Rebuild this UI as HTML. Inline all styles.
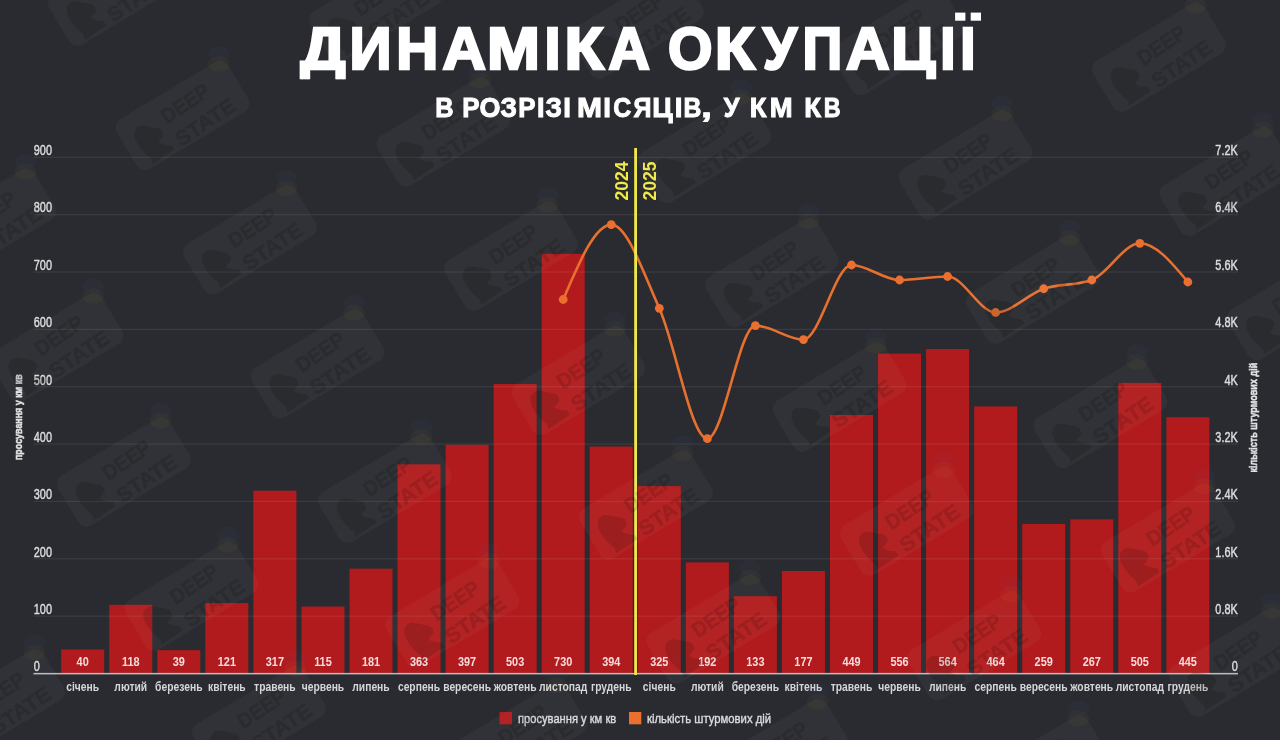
<!DOCTYPE html>
<html><head><meta charset="utf-8"><style>
html,body{margin:0;padding:0;background:#2a2b30;width:1280px;height:740px;overflow:hidden}
svg{display:block;filter:blur(0.4px)}
text{font-family:"Liberation Sans",sans-serif}
.ax{font-size:14px;fill:#dcdcde;stroke:#dcdcde;stroke-width:0.45px}
.vl{font-size:13px;font-weight:bold;fill:#f5dcdc}
.ml{font-size:13.4px;fill:#d6d6d8;font-weight:bold}
.yr{font-size:17.6px;font-weight:bold;fill:#efe94b}
.at{font-size:11.5px;font-weight:bold;fill:#e2e2e4;stroke:#e2e2e4;stroke-width:0.5px}
.lg{font-size:13px;fill:#dcdcde;stroke:#dcdcde;stroke-width:0.4px}
.wm{font-size:21px;font-weight:bold;fill:#000;stroke:#000;stroke-width:0.5px}
.t1{font-size:60px;font-weight:bold;fill:#fff;stroke:#fff;stroke-width:2.6px}
.t2{font-size:27px;font-weight:bold;fill:#fff;stroke:#fff;stroke-width:1px}
</style></head><body>
<svg width="1280" height="740" viewBox="0 0 1280 740">
<text x="33.8" y="671.30" class="ax" transform="translate(33.8 0) scale(0.78 1) translate(-33.8 0)">0</text>
<text x="33.8" y="613.95" class="ax" transform="translate(33.8 0) scale(0.78 1) translate(-33.8 0)">100</text>
<text x="33.8" y="556.60" class="ax" transform="translate(33.8 0) scale(0.78 1) translate(-33.8 0)">200</text>
<text x="33.8" y="499.25" class="ax" transform="translate(33.8 0) scale(0.78 1) translate(-33.8 0)">300</text>
<text x="33.8" y="441.90" class="ax" transform="translate(33.8 0) scale(0.78 1) translate(-33.8 0)">400</text>
<text x="33.8" y="384.55" class="ax" transform="translate(33.8 0) scale(0.78 1) translate(-33.8 0)">500</text>
<text x="33.8" y="327.20" class="ax" transform="translate(33.8 0) scale(0.78 1) translate(-33.8 0)">600</text>
<text x="33.8" y="269.85" class="ax" transform="translate(33.8 0) scale(0.78 1) translate(-33.8 0)">700</text>
<text x="33.8" y="212.50" class="ax" transform="translate(33.8 0) scale(0.78 1) translate(-33.8 0)">800</text>
<text x="33.8" y="155.15" class="ax" transform="translate(33.8 0) scale(0.78 1) translate(-33.8 0)">900</text>
<text x="1237.8" y="671.30" class="ax" text-anchor="end" transform="translate(1237.8 0) scale(0.78 1) translate(-1237.8 0)">0</text>
<text x="1237.8" y="613.95" class="ax" text-anchor="end" transform="translate(1237.8 0) scale(0.78 1) translate(-1237.8 0)">0.8K</text>
<text x="1237.8" y="556.60" class="ax" text-anchor="end" transform="translate(1237.8 0) scale(0.78 1) translate(-1237.8 0)">1.6K</text>
<text x="1237.8" y="499.25" class="ax" text-anchor="end" transform="translate(1237.8 0) scale(0.78 1) translate(-1237.8 0)">2.4K</text>
<text x="1237.8" y="441.90" class="ax" text-anchor="end" transform="translate(1237.8 0) scale(0.78 1) translate(-1237.8 0)">3.2K</text>
<text x="1237.8" y="384.55" class="ax" text-anchor="end" transform="translate(1237.8 0) scale(0.78 1) translate(-1237.8 0)">4K</text>
<text x="1237.8" y="327.20" class="ax" text-anchor="end" transform="translate(1237.8 0) scale(0.78 1) translate(-1237.8 0)">4.8K</text>
<text x="1237.8" y="269.85" class="ax" text-anchor="end" transform="translate(1237.8 0) scale(0.78 1) translate(-1237.8 0)">5.6K</text>
<text x="1237.8" y="212.50" class="ax" text-anchor="end" transform="translate(1237.8 0) scale(0.78 1) translate(-1237.8 0)">6.4K</text>
<text x="1237.8" y="155.15" class="ax" text-anchor="end" transform="translate(1237.8 0) scale(0.78 1) translate(-1237.8 0)">7.2K</text>
<rect x="61.20" y="649.56" width="43" height="23.94" fill="#b21b1d"/>
<text x="82.70" y="665.8" class="vl" text-anchor="middle" transform="translate(82.70 0) scale(0.84 1) translate(-82.70 0)">40</text>
<text x="82.70" y="691.3" class="ml" text-anchor="middle" transform="translate(82.70 0) scale(0.77 1) translate(-82.70 0)">січень</text>
<rect x="109.25" y="604.83" width="43" height="68.67" fill="#b21b1d"/>
<text x="130.75" y="665.8" class="vl" text-anchor="middle" transform="translate(130.75 0) scale(0.84 1) translate(-130.75 0)">118</text>
<text x="130.75" y="691.3" class="ml" text-anchor="middle" transform="translate(130.75 0) scale(0.77 1) translate(-130.75 0)">лютий</text>
<rect x="157.30" y="650.13" width="43" height="23.37" fill="#b21b1d"/>
<text x="178.80" y="665.8" class="vl" text-anchor="middle" transform="translate(178.80 0) scale(0.84 1) translate(-178.80 0)">39</text>
<text x="178.80" y="691.3" class="ml" text-anchor="middle" transform="translate(178.80 0) scale(0.77 1) translate(-178.80 0)">березень</text>
<rect x="205.35" y="603.11" width="43" height="70.39" fill="#b21b1d"/>
<text x="226.85" y="665.8" class="vl" text-anchor="middle" transform="translate(226.85 0) scale(0.84 1) translate(-226.85 0)">121</text>
<text x="226.85" y="691.3" class="ml" text-anchor="middle" transform="translate(226.85 0) scale(0.77 1) translate(-226.85 0)">квітень</text>
<rect x="253.40" y="490.70" width="43" height="182.80" fill="#b21b1d"/>
<text x="274.90" y="665.8" class="vl" text-anchor="middle" transform="translate(274.90 0) scale(0.84 1) translate(-274.90 0)">317</text>
<text x="274.90" y="691.3" class="ml" text-anchor="middle" transform="translate(274.90 0) scale(0.77 1) translate(-274.90 0)">травень</text>
<rect x="301.45" y="606.55" width="43" height="66.95" fill="#b21b1d"/>
<text x="322.95" y="665.8" class="vl" text-anchor="middle" transform="translate(322.95 0) scale(0.84 1) translate(-322.95 0)">115</text>
<text x="322.95" y="691.3" class="ml" text-anchor="middle" transform="translate(322.95 0) scale(0.77 1) translate(-322.95 0)">червень</text>
<rect x="349.50" y="568.70" width="43" height="104.80" fill="#b21b1d"/>
<text x="371.00" y="665.8" class="vl" text-anchor="middle" transform="translate(371.00 0) scale(0.84 1) translate(-371.00 0)">181</text>
<text x="371.00" y="691.3" class="ml" text-anchor="middle" transform="translate(371.00 0) scale(0.77 1) translate(-371.00 0)">липень</text>
<rect x="397.55" y="464.32" width="43" height="209.18" fill="#b21b1d"/>
<text x="419.05" y="665.8" class="vl" text-anchor="middle" transform="translate(419.05 0) scale(0.84 1) translate(-419.05 0)">363</text>
<text x="419.05" y="691.3" class="ml" text-anchor="middle" transform="translate(419.05 0) scale(0.77 1) translate(-419.05 0)">серпень</text>
<rect x="445.60" y="444.82" width="43" height="228.68" fill="#b21b1d"/>
<text x="467.10" y="665.8" class="vl" text-anchor="middle" transform="translate(467.10 0) scale(0.84 1) translate(-467.10 0)">397</text>
<text x="467.10" y="691.3" class="ml" text-anchor="middle" transform="translate(467.10 0) scale(0.77 1) translate(-467.10 0)">вересень</text>
<rect x="493.65" y="384.03" width="43" height="289.47" fill="#b21b1d"/>
<text x="515.15" y="665.8" class="vl" text-anchor="middle" transform="translate(515.15 0) scale(0.84 1) translate(-515.15 0)">503</text>
<text x="515.15" y="691.3" class="ml" text-anchor="middle" transform="translate(515.15 0) scale(0.77 1) translate(-515.15 0)">жовтень</text>
<rect x="541.70" y="253.85" width="43" height="419.65" fill="#b21b1d"/>
<text x="563.20" y="665.8" class="vl" text-anchor="middle" transform="translate(563.20 0) scale(0.84 1) translate(-563.20 0)">730</text>
<text x="563.20" y="691.3" class="ml" text-anchor="middle" transform="translate(563.20 0) scale(0.77 1) translate(-563.20 0)">листопад</text>
<rect x="589.75" y="446.54" width="43" height="226.96" fill="#b21b1d"/>
<text x="611.25" y="665.8" class="vl" text-anchor="middle" transform="translate(611.25 0) scale(0.84 1) translate(-611.25 0)">394</text>
<text x="611.25" y="691.3" class="ml" text-anchor="middle" transform="translate(611.25 0) scale(0.77 1) translate(-611.25 0)">грудень</text>
<rect x="637.80" y="486.11" width="43" height="187.39" fill="#b21b1d"/>
<text x="659.30" y="665.8" class="vl" text-anchor="middle" transform="translate(659.30 0) scale(0.84 1) translate(-659.30 0)">325</text>
<text x="659.30" y="691.3" class="ml" text-anchor="middle" transform="translate(659.30 0) scale(0.77 1) translate(-659.30 0)">січень</text>
<rect x="685.85" y="562.39" width="43" height="111.11" fill="#b21b1d"/>
<text x="707.35" y="665.8" class="vl" text-anchor="middle" transform="translate(707.35 0) scale(0.84 1) translate(-707.35 0)">192</text>
<text x="707.35" y="691.3" class="ml" text-anchor="middle" transform="translate(707.35 0) scale(0.77 1) translate(-707.35 0)">лютий</text>
<rect x="733.90" y="596.22" width="43" height="77.28" fill="#b21b1d"/>
<text x="755.40" y="665.8" class="vl" text-anchor="middle" transform="translate(755.40 0) scale(0.84 1) translate(-755.40 0)">133</text>
<text x="755.40" y="691.3" class="ml" text-anchor="middle" transform="translate(755.40 0) scale(0.77 1) translate(-755.40 0)">березень</text>
<rect x="781.95" y="570.99" width="43" height="102.51" fill="#b21b1d"/>
<text x="803.45" y="665.8" class="vl" text-anchor="middle" transform="translate(803.45 0) scale(0.84 1) translate(-803.45 0)">177</text>
<text x="803.45" y="691.3" class="ml" text-anchor="middle" transform="translate(803.45 0) scale(0.77 1) translate(-803.45 0)">квітень</text>
<rect x="830.00" y="415.00" width="43" height="258.50" fill="#b21b1d"/>
<text x="851.50" y="665.8" class="vl" text-anchor="middle" transform="translate(851.50 0) scale(0.84 1) translate(-851.50 0)">449</text>
<text x="851.50" y="691.3" class="ml" text-anchor="middle" transform="translate(851.50 0) scale(0.77 1) translate(-851.50 0)">травень</text>
<rect x="878.05" y="353.63" width="43" height="319.87" fill="#b21b1d"/>
<text x="899.55" y="665.8" class="vl" text-anchor="middle" transform="translate(899.55 0) scale(0.84 1) translate(-899.55 0)">556</text>
<text x="899.55" y="691.3" class="ml" text-anchor="middle" transform="translate(899.55 0) scale(0.77 1) translate(-899.55 0)">червень</text>
<rect x="926.10" y="349.05" width="43" height="324.45" fill="#b21b1d"/>
<text x="947.60" y="665.8" class="vl" text-anchor="middle" transform="translate(947.60 0) scale(0.84 1) translate(-947.60 0)">564</text>
<text x="947.60" y="691.3" class="ml" text-anchor="middle" transform="translate(947.60 0) scale(0.77 1) translate(-947.60 0)">липень</text>
<rect x="974.15" y="406.40" width="43" height="267.10" fill="#b21b1d"/>
<text x="995.65" y="665.8" class="vl" text-anchor="middle" transform="translate(995.65 0) scale(0.84 1) translate(-995.65 0)">464</text>
<text x="995.65" y="691.3" class="ml" text-anchor="middle" transform="translate(995.65 0) scale(0.77 1) translate(-995.65 0)">серпень</text>
<rect x="1022.20" y="523.96" width="43" height="149.54" fill="#b21b1d"/>
<text x="1043.70" y="665.8" class="vl" text-anchor="middle" transform="translate(1043.70 0) scale(0.84 1) translate(-1043.70 0)">259</text>
<text x="1043.70" y="691.3" class="ml" text-anchor="middle" transform="translate(1043.70 0) scale(0.77 1) translate(-1043.70 0)">вересень</text>
<rect x="1070.25" y="519.38" width="43" height="154.12" fill="#b21b1d"/>
<text x="1091.75" y="665.8" class="vl" text-anchor="middle" transform="translate(1091.75 0) scale(0.84 1) translate(-1091.75 0)">267</text>
<text x="1091.75" y="691.3" class="ml" text-anchor="middle" transform="translate(1091.75 0) scale(0.77 1) translate(-1091.75 0)">жовтень</text>
<rect x="1118.30" y="382.88" width="43" height="290.62" fill="#b21b1d"/>
<text x="1139.80" y="665.8" class="vl" text-anchor="middle" transform="translate(1139.80 0) scale(0.84 1) translate(-1139.80 0)">505</text>
<text x="1139.80" y="691.3" class="ml" text-anchor="middle" transform="translate(1139.80 0) scale(0.77 1) translate(-1139.80 0)">листопад</text>
<rect x="1166.35" y="417.29" width="43" height="256.21" fill="#b21b1d"/>
<text x="1187.85" y="665.8" class="vl" text-anchor="middle" transform="translate(1187.85 0) scale(0.84 1) translate(-1187.85 0)">445</text>
<text x="1187.85" y="691.3" class="ml" text-anchor="middle" transform="translate(1187.85 0) scale(0.77 1) translate(-1187.85 0)">грудень</text>
<rect x="33.5" y="615.55" width="1204.5" height="1.2" fill="rgba(255,255,255,0.08)"/>
<rect x="33.5" y="558.20" width="1204.5" height="1.2" fill="rgba(255,255,255,0.08)"/>
<rect x="33.5" y="500.85" width="1204.5" height="1.2" fill="rgba(255,255,255,0.08)"/>
<rect x="33.5" y="443.50" width="1204.5" height="1.2" fill="rgba(255,255,255,0.08)"/>
<rect x="33.5" y="386.15" width="1204.5" height="1.2" fill="rgba(255,255,255,0.08)"/>
<rect x="33.5" y="328.80" width="1204.5" height="1.2" fill="rgba(255,255,255,0.08)"/>
<rect x="33.5" y="271.45" width="1204.5" height="1.2" fill="rgba(255,255,255,0.08)"/>
<rect x="33.5" y="214.10" width="1204.5" height="1.2" fill="rgba(255,255,255,0.08)"/>
<rect x="33.5" y="156.75" width="1204.5" height="1.2" fill="rgba(255,255,255,0.08)"/>
<rect x="33.5" y="672.90" width="1204.5" height="1.5" fill="#bcbcc0"/>
<path d="M563.20,299.50 C579.22,262.05 595.23,224.60 611.25,224.60 C627.27,224.60 643.28,272.62 659.30,308.30 C675.32,343.98 691.33,438.70 707.35,438.70 C723.37,438.70 739.38,325.60 755.40,325.60 C771.42,325.60 787.43,339.60 803.45,339.60 C819.47,339.60 835.48,265.00 851.50,265.00 C867.52,265.00 883.53,280.00 899.55,280.00 C915.57,280.00 931.58,276.50 947.60,276.50 C963.62,276.50 979.63,312.50 995.65,312.50 C1011.67,312.50 1027.68,294.17 1043.70,288.75 C1059.72,283.33 1075.73,285.83 1091.75,280.00 C1107.77,274.17 1123.78,243.30 1139.80,243.30 C1155.82,243.30 1171.83,262.65 1187.85,282.00" fill="none" stroke="#e8702f" stroke-width="2.6"/>
<circle cx="563.20" cy="299.50" r="4.4" fill="#ec6f2f"/>
<circle cx="611.25" cy="224.60" r="4.4" fill="#ec6f2f"/>
<circle cx="659.30" cy="308.30" r="4.4" fill="#ec6f2f"/>
<circle cx="707.35" cy="438.70" r="4.4" fill="#ec6f2f"/>
<circle cx="755.40" cy="325.60" r="4.4" fill="#ec6f2f"/>
<circle cx="803.45" cy="339.60" r="4.4" fill="#ec6f2f"/>
<circle cx="851.50" cy="265.00" r="4.4" fill="#ec6f2f"/>
<circle cx="899.55" cy="280.00" r="4.4" fill="#ec6f2f"/>
<circle cx="947.60" cy="276.50" r="4.4" fill="#ec6f2f"/>
<circle cx="995.65" cy="312.50" r="4.4" fill="#ec6f2f"/>
<circle cx="1043.70" cy="288.75" r="4.4" fill="#ec6f2f"/>
<circle cx="1091.75" cy="280.00" r="4.4" fill="#ec6f2f"/>
<circle cx="1139.80" cy="243.30" r="4.4" fill="#ec6f2f"/>
<circle cx="1187.85" cy="282.00" r="4.4" fill="#ec6f2f"/>
<rect x="634.2" y="148" width="2.8" height="527" fill="#efe94b"/>
<text class="yr" transform="translate(628 200.5) rotate(-90)">2024</text>
<text class="yr" transform="translate(656.3 200.5) rotate(-90)">2025</text>
<text class="at" transform="translate(22 460) rotate(-90)" textLength="85.6" lengthAdjust="spacingAndGlyphs">просування у км кв</text>
<text class="at" transform="translate(1256.6 472.5) rotate(-90)" textLength="109.7" lengthAdjust="spacingAndGlyphs">кількість штурмових дій</text>
<rect x="499.5" y="712" width="12.5" height="12.3" fill="#b21b1d"/>
<text x="518" y="722.6" class="lg" textLength="98.2" lengthAdjust="spacingAndGlyphs">просування у км кв</text>
<rect x="629" y="712" width="12.3" height="12.3" fill="#ec6f2f"/>
<text x="647" y="722.6" class="lg" textLength="124.2" lengthAdjust="spacingAndGlyphs">кількість штурмових дій</text>
<g transform="translate(-66.9 567.6)"><g transform="rotate(-31)"><rect x="-73.5" y="-20" width="130" height="58" rx="10" fill="rgba(255,255,255,0.037)"/></g><g transform="rotate(-34)" opacity="0.13"><path transform="translate(-48 12)" d="M-13,20 H13 V15 C10,13 6,10 4,5 L11,3 C14,1 14,-4 12,-6 L2,-16 C-2,-20 -8,-20 -12,-14 C-15,-8 -15,4 -11,15 Z" fill="#000"/><text x="0" y="7.3" text-anchor="middle" class="wm" textLength="54" lengthAdjust="spacingAndGlyphs">DEEP</text><text x="6" y="34" text-anchor="middle" class="wm" textLength="68" lengthAdjust="spacingAndGlyphs">STATE</text></g></g>
<ellipse cx="-33.0" cy="518.2" rx="11" ry="8" fill="rgba(70,120,220,0.045)"/>
<ellipse cx="-33.0" cy="528.2" rx="11" ry="8" fill="rgba(230,200,60,0.035)"/>
<g transform="translate(0.6 691.9)"><g transform="rotate(-31)"><rect x="-73.5" y="-20" width="130" height="58" rx="10" fill="rgba(255,255,255,0.037)"/></g><g transform="rotate(-34)" opacity="0.13"><path transform="translate(-48 12)" d="M-13,20 H13 V15 C10,13 6,10 4,5 L11,3 C14,1 14,-4 12,-6 L2,-16 C-2,-20 -8,-20 -12,-14 C-15,-8 -15,4 -11,15 Z" fill="#000"/><text x="0" y="7.3" text-anchor="middle" class="wm" textLength="54" lengthAdjust="spacingAndGlyphs">DEEP</text><text x="6" y="34" text-anchor="middle" class="wm" textLength="68" lengthAdjust="spacingAndGlyphs">STATE</text></g></g>
<ellipse cx="34.5" cy="642.5" rx="11" ry="8" fill="rgba(70,120,220,0.045)"/>
<ellipse cx="34.5" cy="652.5" rx="11" ry="8" fill="rgba(230,200,60,0.035)"/>
<g transform="translate(68.1 816.2)"><g transform="rotate(-31)"><rect x="-73.5" y="-20" width="130" height="58" rx="10" fill="rgba(255,255,255,0.037)"/></g><g transform="rotate(-34)" opacity="0.13"><path transform="translate(-48 12)" d="M-13,20 H13 V15 C10,13 6,10 4,5 L11,3 C14,1 14,-4 12,-6 L2,-16 C-2,-20 -8,-20 -12,-14 C-15,-8 -15,4 -11,15 Z" fill="#000"/><text x="0" y="7.3" text-anchor="middle" class="wm" textLength="54" lengthAdjust="spacingAndGlyphs">DEEP</text><text x="6" y="34" text-anchor="middle" class="wm" textLength="68" lengthAdjust="spacingAndGlyphs">STATE</text></g></g>
<ellipse cx="102.0" cy="766.8" rx="11" ry="8" fill="rgba(70,120,220,0.045)"/>
<ellipse cx="102.0" cy="776.8" rx="11" ry="8" fill="rgba(230,200,60,0.035)"/>
<g transform="translate(-75.9 86.9)"><g transform="rotate(-31)"><rect x="-73.5" y="-20" width="130" height="58" rx="10" fill="rgba(255,255,255,0.037)"/></g><g transform="rotate(-34)" opacity="0.13"><path transform="translate(-48 12)" d="M-13,20 H13 V15 C10,13 6,10 4,5 L11,3 C14,1 14,-4 12,-6 L2,-16 C-2,-20 -8,-20 -12,-14 C-15,-8 -15,4 -11,15 Z" fill="#000"/><text x="0" y="7.3" text-anchor="middle" class="wm" textLength="54" lengthAdjust="spacingAndGlyphs">DEEP</text><text x="6" y="34" text-anchor="middle" class="wm" textLength="68" lengthAdjust="spacingAndGlyphs">STATE</text></g></g>
<ellipse cx="-42.0" cy="37.5" rx="11" ry="8" fill="rgba(70,120,220,0.045)"/>
<ellipse cx="-42.0" cy="47.5" rx="11" ry="8" fill="rgba(230,200,60,0.035)"/>
<g transform="translate(-8.4 211.2)"><g transform="rotate(-31)"><rect x="-73.5" y="-20" width="130" height="58" rx="10" fill="rgba(255,255,255,0.037)"/></g><g transform="rotate(-34)" opacity="0.13"><path transform="translate(-48 12)" d="M-13,20 H13 V15 C10,13 6,10 4,5 L11,3 C14,1 14,-4 12,-6 L2,-16 C-2,-20 -8,-20 -12,-14 C-15,-8 -15,4 -11,15 Z" fill="#000"/><text x="0" y="7.3" text-anchor="middle" class="wm" textLength="54" lengthAdjust="spacingAndGlyphs">DEEP</text><text x="6" y="34" text-anchor="middle" class="wm" textLength="68" lengthAdjust="spacingAndGlyphs">STATE</text></g></g>
<ellipse cx="25.5" cy="161.8" rx="11" ry="8" fill="rgba(70,120,220,0.045)"/>
<ellipse cx="25.5" cy="171.8" rx="11" ry="8" fill="rgba(230,200,60,0.035)"/>
<g transform="translate(59.1 335.5)"><g transform="rotate(-31)"><rect x="-73.5" y="-20" width="130" height="58" rx="10" fill="rgba(255,255,255,0.037)"/></g><g transform="rotate(-34)" opacity="0.13"><path transform="translate(-48 12)" d="M-13,20 H13 V15 C10,13 6,10 4,5 L11,3 C14,1 14,-4 12,-6 L2,-16 C-2,-20 -8,-20 -12,-14 C-15,-8 -15,4 -11,15 Z" fill="#000"/><text x="0" y="7.3" text-anchor="middle" class="wm" textLength="54" lengthAdjust="spacingAndGlyphs">DEEP</text><text x="6" y="34" text-anchor="middle" class="wm" textLength="68" lengthAdjust="spacingAndGlyphs">STATE</text></g></g>
<ellipse cx="93.0" cy="286.1" rx="11" ry="8" fill="rgba(70,120,220,0.045)"/>
<ellipse cx="93.0" cy="296.1" rx="11" ry="8" fill="rgba(230,200,60,0.035)"/>
<g transform="translate(126.6 459.8)"><g transform="rotate(-31)"><rect x="-73.5" y="-20" width="130" height="58" rx="10" fill="rgba(255,255,255,0.037)"/></g><g transform="rotate(-34)" opacity="0.13"><path transform="translate(-48 12)" d="M-13,20 H13 V15 C10,13 6,10 4,5 L11,3 C14,1 14,-4 12,-6 L2,-16 C-2,-20 -8,-20 -12,-14 C-15,-8 -15,4 -11,15 Z" fill="#000"/><text x="0" y="7.3" text-anchor="middle" class="wm" textLength="54" lengthAdjust="spacingAndGlyphs">DEEP</text><text x="6" y="34" text-anchor="middle" class="wm" textLength="68" lengthAdjust="spacingAndGlyphs">STATE</text></g></g>
<ellipse cx="160.5" cy="410.4" rx="11" ry="8" fill="rgba(70,120,220,0.045)"/>
<ellipse cx="160.5" cy="420.4" rx="11" ry="8" fill="rgba(230,200,60,0.035)"/>
<g transform="translate(194.1 584.1)"><g transform="rotate(-31)"><rect x="-73.5" y="-20" width="130" height="58" rx="10" fill="rgba(255,255,255,0.037)"/></g><g transform="rotate(-34)" opacity="0.13"><path transform="translate(-48 12)" d="M-13,20 H13 V15 C10,13 6,10 4,5 L11,3 C14,1 14,-4 12,-6 L2,-16 C-2,-20 -8,-20 -12,-14 C-15,-8 -15,4 -11,15 Z" fill="#000"/><text x="0" y="7.3" text-anchor="middle" class="wm" textLength="54" lengthAdjust="spacingAndGlyphs">DEEP</text><text x="6" y="34" text-anchor="middle" class="wm" textLength="68" lengthAdjust="spacingAndGlyphs">STATE</text></g></g>
<ellipse cx="228.0" cy="534.7" rx="11" ry="8" fill="rgba(70,120,220,0.045)"/>
<ellipse cx="228.0" cy="544.7" rx="11" ry="8" fill="rgba(230,200,60,0.035)"/>
<g transform="translate(261.6 708.4)"><g transform="rotate(-31)"><rect x="-73.5" y="-20" width="130" height="58" rx="10" fill="rgba(255,255,255,0.037)"/></g><g transform="rotate(-34)" opacity="0.13"><path transform="translate(-48 12)" d="M-13,20 H13 V15 C10,13 6,10 4,5 L11,3 C14,1 14,-4 12,-6 L2,-16 C-2,-20 -8,-20 -12,-14 C-15,-8 -15,4 -11,15 Z" fill="#000"/><text x="0" y="7.3" text-anchor="middle" class="wm" textLength="54" lengthAdjust="spacingAndGlyphs">DEEP</text><text x="6" y="34" text-anchor="middle" class="wm" textLength="68" lengthAdjust="spacingAndGlyphs">STATE</text></g></g>
<ellipse cx="295.5" cy="659.0" rx="11" ry="8" fill="rgba(70,120,220,0.045)"/>
<ellipse cx="295.5" cy="669.0" rx="11" ry="8" fill="rgba(230,200,60,0.035)"/>
<g transform="translate(329.1 832.7)"><g transform="rotate(-31)"><rect x="-73.5" y="-20" width="130" height="58" rx="10" fill="rgba(255,255,255,0.037)"/></g><g transform="rotate(-34)" opacity="0.13"><path transform="translate(-48 12)" d="M-13,20 H13 V15 C10,13 6,10 4,5 L11,3 C14,1 14,-4 12,-6 L2,-16 C-2,-20 -8,-20 -12,-14 C-15,-8 -15,4 -11,15 Z" fill="#000"/><text x="0" y="7.3" text-anchor="middle" class="wm" textLength="54" lengthAdjust="spacingAndGlyphs">DEEP</text><text x="6" y="34" text-anchor="middle" class="wm" textLength="68" lengthAdjust="spacingAndGlyphs">STATE</text></g></g>
<ellipse cx="363.0" cy="783.3" rx="11" ry="8" fill="rgba(70,120,220,0.045)"/>
<ellipse cx="363.0" cy="793.3" rx="11" ry="8" fill="rgba(230,200,60,0.035)"/>
<g transform="translate(117.6 -20.9)"><g transform="rotate(-31)"><rect x="-73.5" y="-20" width="130" height="58" rx="10" fill="rgba(255,255,255,0.037)"/></g><g transform="rotate(-34)" opacity="0.13"><path transform="translate(-48 12)" d="M-13,20 H13 V15 C10,13 6,10 4,5 L11,3 C14,1 14,-4 12,-6 L2,-16 C-2,-20 -8,-20 -12,-14 C-15,-8 -15,4 -11,15 Z" fill="#000"/><text x="0" y="7.3" text-anchor="middle" class="wm" textLength="54" lengthAdjust="spacingAndGlyphs">DEEP</text><text x="6" y="34" text-anchor="middle" class="wm" textLength="68" lengthAdjust="spacingAndGlyphs">STATE</text></g></g>
<ellipse cx="151.5" cy="-70.3" rx="11" ry="8" fill="rgba(70,120,220,0.045)"/>
<ellipse cx="151.5" cy="-60.3" rx="11" ry="8" fill="rgba(230,200,60,0.035)"/>
<g transform="translate(185.1 103.4)"><g transform="rotate(-31)"><rect x="-73.5" y="-20" width="130" height="58" rx="10" fill="rgba(255,255,255,0.037)"/></g><g transform="rotate(-34)" opacity="0.13"><path transform="translate(-48 12)" d="M-13,20 H13 V15 C10,13 6,10 4,5 L11,3 C14,1 14,-4 12,-6 L2,-16 C-2,-20 -8,-20 -12,-14 C-15,-8 -15,4 -11,15 Z" fill="#000"/><text x="0" y="7.3" text-anchor="middle" class="wm" textLength="54" lengthAdjust="spacingAndGlyphs">DEEP</text><text x="6" y="34" text-anchor="middle" class="wm" textLength="68" lengthAdjust="spacingAndGlyphs">STATE</text></g></g>
<ellipse cx="219.0" cy="54.0" rx="11" ry="8" fill="rgba(70,120,220,0.045)"/>
<ellipse cx="219.0" cy="64.0" rx="11" ry="8" fill="rgba(230,200,60,0.035)"/>
<g transform="translate(252.6 227.7)"><g transform="rotate(-31)"><rect x="-73.5" y="-20" width="130" height="58" rx="10" fill="rgba(255,255,255,0.037)"/></g><g transform="rotate(-34)" opacity="0.13"><path transform="translate(-48 12)" d="M-13,20 H13 V15 C10,13 6,10 4,5 L11,3 C14,1 14,-4 12,-6 L2,-16 C-2,-20 -8,-20 -12,-14 C-15,-8 -15,4 -11,15 Z" fill="#000"/><text x="0" y="7.3" text-anchor="middle" class="wm" textLength="54" lengthAdjust="spacingAndGlyphs">DEEP</text><text x="6" y="34" text-anchor="middle" class="wm" textLength="68" lengthAdjust="spacingAndGlyphs">STATE</text></g></g>
<ellipse cx="286.5" cy="178.3" rx="11" ry="8" fill="rgba(70,120,220,0.045)"/>
<ellipse cx="286.5" cy="188.3" rx="11" ry="8" fill="rgba(230,200,60,0.035)"/>
<g transform="translate(320.1 352.0)"><g transform="rotate(-31)"><rect x="-73.5" y="-20" width="130" height="58" rx="10" fill="rgba(255,255,255,0.037)"/></g><g transform="rotate(-34)" opacity="0.13"><path transform="translate(-48 12)" d="M-13,20 H13 V15 C10,13 6,10 4,5 L11,3 C14,1 14,-4 12,-6 L2,-16 C-2,-20 -8,-20 -12,-14 C-15,-8 -15,4 -11,15 Z" fill="#000"/><text x="0" y="7.3" text-anchor="middle" class="wm" textLength="54" lengthAdjust="spacingAndGlyphs">DEEP</text><text x="6" y="34" text-anchor="middle" class="wm" textLength="68" lengthAdjust="spacingAndGlyphs">STATE</text></g></g>
<ellipse cx="354.0" cy="302.6" rx="11" ry="8" fill="rgba(70,120,220,0.045)"/>
<ellipse cx="354.0" cy="312.6" rx="11" ry="8" fill="rgba(230,200,60,0.035)"/>
<g transform="translate(387.6 476.3)"><g transform="rotate(-31)"><rect x="-73.5" y="-20" width="130" height="58" rx="10" fill="rgba(255,255,255,0.037)"/></g><g transform="rotate(-34)" opacity="0.13"><path transform="translate(-48 12)" d="M-13,20 H13 V15 C10,13 6,10 4,5 L11,3 C14,1 14,-4 12,-6 L2,-16 C-2,-20 -8,-20 -12,-14 C-15,-8 -15,4 -11,15 Z" fill="#000"/><text x="0" y="7.3" text-anchor="middle" class="wm" textLength="54" lengthAdjust="spacingAndGlyphs">DEEP</text><text x="6" y="34" text-anchor="middle" class="wm" textLength="68" lengthAdjust="spacingAndGlyphs">STATE</text></g></g>
<ellipse cx="421.5" cy="426.9" rx="11" ry="8" fill="rgba(70,120,220,0.045)"/>
<ellipse cx="421.5" cy="436.9" rx="11" ry="8" fill="rgba(230,200,60,0.035)"/>
<g transform="translate(455.1 600.6)"><g transform="rotate(-31)"><rect x="-73.5" y="-20" width="130" height="58" rx="10" fill="rgba(255,255,255,0.037)"/></g><g transform="rotate(-34)" opacity="0.13"><path transform="translate(-48 12)" d="M-13,20 H13 V15 C10,13 6,10 4,5 L11,3 C14,1 14,-4 12,-6 L2,-16 C-2,-20 -8,-20 -12,-14 C-15,-8 -15,4 -11,15 Z" fill="#000"/><text x="0" y="7.3" text-anchor="middle" class="wm" textLength="54" lengthAdjust="spacingAndGlyphs">DEEP</text><text x="6" y="34" text-anchor="middle" class="wm" textLength="68" lengthAdjust="spacingAndGlyphs">STATE</text></g></g>
<ellipse cx="489.0" cy="551.2" rx="11" ry="8" fill="rgba(70,120,220,0.045)"/>
<ellipse cx="489.0" cy="561.2" rx="11" ry="8" fill="rgba(230,200,60,0.035)"/>
<g transform="translate(522.6 724.9)"><g transform="rotate(-31)"><rect x="-73.5" y="-20" width="130" height="58" rx="10" fill="rgba(255,255,255,0.037)"/></g><g transform="rotate(-34)" opacity="0.13"><path transform="translate(-48 12)" d="M-13,20 H13 V15 C10,13 6,10 4,5 L11,3 C14,1 14,-4 12,-6 L2,-16 C-2,-20 -8,-20 -12,-14 C-15,-8 -15,4 -11,15 Z" fill="#000"/><text x="0" y="7.3" text-anchor="middle" class="wm" textLength="54" lengthAdjust="spacingAndGlyphs">DEEP</text><text x="6" y="34" text-anchor="middle" class="wm" textLength="68" lengthAdjust="spacingAndGlyphs">STATE</text></g></g>
<ellipse cx="556.5" cy="675.5" rx="11" ry="8" fill="rgba(70,120,220,0.045)"/>
<ellipse cx="556.5" cy="685.5" rx="11" ry="8" fill="rgba(230,200,60,0.035)"/>
<g transform="translate(378.6 -4.4)"><g transform="rotate(-31)"><rect x="-73.5" y="-20" width="130" height="58" rx="10" fill="rgba(255,255,255,0.037)"/></g><g transform="rotate(-34)" opacity="0.13"><path transform="translate(-48 12)" d="M-13,20 H13 V15 C10,13 6,10 4,5 L11,3 C14,1 14,-4 12,-6 L2,-16 C-2,-20 -8,-20 -12,-14 C-15,-8 -15,4 -11,15 Z" fill="#000"/><text x="0" y="7.3" text-anchor="middle" class="wm" textLength="54" lengthAdjust="spacingAndGlyphs">DEEP</text><text x="6" y="34" text-anchor="middle" class="wm" textLength="68" lengthAdjust="spacingAndGlyphs">STATE</text></g></g>
<ellipse cx="412.5" cy="-53.8" rx="11" ry="8" fill="rgba(70,120,220,0.045)"/>
<ellipse cx="412.5" cy="-43.8" rx="11" ry="8" fill="rgba(230,200,60,0.035)"/>
<g transform="translate(446.1 119.9)"><g transform="rotate(-31)"><rect x="-73.5" y="-20" width="130" height="58" rx="10" fill="rgba(255,255,255,0.037)"/></g><g transform="rotate(-34)" opacity="0.13"><path transform="translate(-48 12)" d="M-13,20 H13 V15 C10,13 6,10 4,5 L11,3 C14,1 14,-4 12,-6 L2,-16 C-2,-20 -8,-20 -12,-14 C-15,-8 -15,4 -11,15 Z" fill="#000"/><text x="0" y="7.3" text-anchor="middle" class="wm" textLength="54" lengthAdjust="spacingAndGlyphs">DEEP</text><text x="6" y="34" text-anchor="middle" class="wm" textLength="68" lengthAdjust="spacingAndGlyphs">STATE</text></g></g>
<ellipse cx="480.0" cy="70.5" rx="11" ry="8" fill="rgba(70,120,220,0.045)"/>
<ellipse cx="480.0" cy="80.5" rx="11" ry="8" fill="rgba(230,200,60,0.035)"/>
<g transform="translate(513.6 244.2)"><g transform="rotate(-31)"><rect x="-73.5" y="-20" width="130" height="58" rx="10" fill="rgba(255,255,255,0.037)"/></g><g transform="rotate(-34)" opacity="0.13"><path transform="translate(-48 12)" d="M-13,20 H13 V15 C10,13 6,10 4,5 L11,3 C14,1 14,-4 12,-6 L2,-16 C-2,-20 -8,-20 -12,-14 C-15,-8 -15,4 -11,15 Z" fill="#000"/><text x="0" y="7.3" text-anchor="middle" class="wm" textLength="54" lengthAdjust="spacingAndGlyphs">DEEP</text><text x="6" y="34" text-anchor="middle" class="wm" textLength="68" lengthAdjust="spacingAndGlyphs">STATE</text></g></g>
<ellipse cx="547.5" cy="194.8" rx="11" ry="8" fill="rgba(70,120,220,0.045)"/>
<ellipse cx="547.5" cy="204.8" rx="11" ry="8" fill="rgba(230,200,60,0.035)"/>
<g transform="translate(581.1 368.5)"><g transform="rotate(-31)"><rect x="-73.5" y="-20" width="130" height="58" rx="10" fill="rgba(255,255,255,0.037)"/></g><g transform="rotate(-34)" opacity="0.13"><path transform="translate(-48 12)" d="M-13,20 H13 V15 C10,13 6,10 4,5 L11,3 C14,1 14,-4 12,-6 L2,-16 C-2,-20 -8,-20 -12,-14 C-15,-8 -15,4 -11,15 Z" fill="#000"/><text x="0" y="7.3" text-anchor="middle" class="wm" textLength="54" lengthAdjust="spacingAndGlyphs">DEEP</text><text x="6" y="34" text-anchor="middle" class="wm" textLength="68" lengthAdjust="spacingAndGlyphs">STATE</text></g></g>
<ellipse cx="615.0" cy="319.1" rx="11" ry="8" fill="rgba(70,120,220,0.045)"/>
<ellipse cx="615.0" cy="329.1" rx="11" ry="8" fill="rgba(230,200,60,0.035)"/>
<g transform="translate(648.6 492.8)"><g transform="rotate(-31)"><rect x="-73.5" y="-20" width="130" height="58" rx="10" fill="rgba(255,255,255,0.037)"/></g><g transform="rotate(-34)" opacity="0.13"><path transform="translate(-48 12)" d="M-13,20 H13 V15 C10,13 6,10 4,5 L11,3 C14,1 14,-4 12,-6 L2,-16 C-2,-20 -8,-20 -12,-14 C-15,-8 -15,4 -11,15 Z" fill="#000"/><text x="0" y="7.3" text-anchor="middle" class="wm" textLength="54" lengthAdjust="spacingAndGlyphs">DEEP</text><text x="6" y="34" text-anchor="middle" class="wm" textLength="68" lengthAdjust="spacingAndGlyphs">STATE</text></g></g>
<ellipse cx="682.5" cy="443.4" rx="11" ry="8" fill="rgba(70,120,220,0.045)"/>
<ellipse cx="682.5" cy="453.4" rx="11" ry="8" fill="rgba(230,200,60,0.035)"/>
<g transform="translate(716.1 617.1)"><g transform="rotate(-31)"><rect x="-73.5" y="-20" width="130" height="58" rx="10" fill="rgba(255,255,255,0.037)"/></g><g transform="rotate(-34)" opacity="0.13"><path transform="translate(-48 12)" d="M-13,20 H13 V15 C10,13 6,10 4,5 L11,3 C14,1 14,-4 12,-6 L2,-16 C-2,-20 -8,-20 -12,-14 C-15,-8 -15,4 -11,15 Z" fill="#000"/><text x="0" y="7.3" text-anchor="middle" class="wm" textLength="54" lengthAdjust="spacingAndGlyphs">DEEP</text><text x="6" y="34" text-anchor="middle" class="wm" textLength="68" lengthAdjust="spacingAndGlyphs">STATE</text></g></g>
<ellipse cx="750.0" cy="567.7" rx="11" ry="8" fill="rgba(70,120,220,0.045)"/>
<ellipse cx="750.0" cy="577.7" rx="11" ry="8" fill="rgba(230,200,60,0.035)"/>
<g transform="translate(783.6 741.4)"><g transform="rotate(-31)"><rect x="-73.5" y="-20" width="130" height="58" rx="10" fill="rgba(255,255,255,0.037)"/></g><g transform="rotate(-34)" opacity="0.13"><path transform="translate(-48 12)" d="M-13,20 H13 V15 C10,13 6,10 4,5 L11,3 C14,1 14,-4 12,-6 L2,-16 C-2,-20 -8,-20 -12,-14 C-15,-8 -15,4 -11,15 Z" fill="#000"/><text x="0" y="7.3" text-anchor="middle" class="wm" textLength="54" lengthAdjust="spacingAndGlyphs">DEEP</text><text x="6" y="34" text-anchor="middle" class="wm" textLength="68" lengthAdjust="spacingAndGlyphs">STATE</text></g></g>
<ellipse cx="817.5" cy="692.0" rx="11" ry="8" fill="rgba(70,120,220,0.045)"/>
<ellipse cx="817.5" cy="702.0" rx="11" ry="8" fill="rgba(230,200,60,0.035)"/>
<g transform="translate(639.6 12.1)"><g transform="rotate(-31)"><rect x="-73.5" y="-20" width="130" height="58" rx="10" fill="rgba(255,255,255,0.037)"/></g><g transform="rotate(-34)" opacity="0.13"><path transform="translate(-48 12)" d="M-13,20 H13 V15 C10,13 6,10 4,5 L11,3 C14,1 14,-4 12,-6 L2,-16 C-2,-20 -8,-20 -12,-14 C-15,-8 -15,4 -11,15 Z" fill="#000"/><text x="0" y="7.3" text-anchor="middle" class="wm" textLength="54" lengthAdjust="spacingAndGlyphs">DEEP</text><text x="6" y="34" text-anchor="middle" class="wm" textLength="68" lengthAdjust="spacingAndGlyphs">STATE</text></g></g>
<ellipse cx="673.5" cy="-37.3" rx="11" ry="8" fill="rgba(70,120,220,0.045)"/>
<ellipse cx="673.5" cy="-27.3" rx="11" ry="8" fill="rgba(230,200,60,0.035)"/>
<g transform="translate(707.1 136.4)"><g transform="rotate(-31)"><rect x="-73.5" y="-20" width="130" height="58" rx="10" fill="rgba(255,255,255,0.037)"/></g><g transform="rotate(-34)" opacity="0.13"><path transform="translate(-48 12)" d="M-13,20 H13 V15 C10,13 6,10 4,5 L11,3 C14,1 14,-4 12,-6 L2,-16 C-2,-20 -8,-20 -12,-14 C-15,-8 -15,4 -11,15 Z" fill="#000"/><text x="0" y="7.3" text-anchor="middle" class="wm" textLength="54" lengthAdjust="spacingAndGlyphs">DEEP</text><text x="6" y="34" text-anchor="middle" class="wm" textLength="68" lengthAdjust="spacingAndGlyphs">STATE</text></g></g>
<ellipse cx="741.0" cy="87.0" rx="11" ry="8" fill="rgba(70,120,220,0.045)"/>
<ellipse cx="741.0" cy="97.0" rx="11" ry="8" fill="rgba(230,200,60,0.035)"/>
<g transform="translate(774.6 260.7)"><g transform="rotate(-31)"><rect x="-73.5" y="-20" width="130" height="58" rx="10" fill="rgba(255,255,255,0.037)"/></g><g transform="rotate(-34)" opacity="0.13"><path transform="translate(-48 12)" d="M-13,20 H13 V15 C10,13 6,10 4,5 L11,3 C14,1 14,-4 12,-6 L2,-16 C-2,-20 -8,-20 -12,-14 C-15,-8 -15,4 -11,15 Z" fill="#000"/><text x="0" y="7.3" text-anchor="middle" class="wm" textLength="54" lengthAdjust="spacingAndGlyphs">DEEP</text><text x="6" y="34" text-anchor="middle" class="wm" textLength="68" lengthAdjust="spacingAndGlyphs">STATE</text></g></g>
<ellipse cx="808.5" cy="211.3" rx="11" ry="8" fill="rgba(70,120,220,0.045)"/>
<ellipse cx="808.5" cy="221.3" rx="11" ry="8" fill="rgba(230,200,60,0.035)"/>
<g transform="translate(842.1 385.0)"><g transform="rotate(-31)"><rect x="-73.5" y="-20" width="130" height="58" rx="10" fill="rgba(255,255,255,0.037)"/></g><g transform="rotate(-34)" opacity="0.13"><path transform="translate(-48 12)" d="M-13,20 H13 V15 C10,13 6,10 4,5 L11,3 C14,1 14,-4 12,-6 L2,-16 C-2,-20 -8,-20 -12,-14 C-15,-8 -15,4 -11,15 Z" fill="#000"/><text x="0" y="7.3" text-anchor="middle" class="wm" textLength="54" lengthAdjust="spacingAndGlyphs">DEEP</text><text x="6" y="34" text-anchor="middle" class="wm" textLength="68" lengthAdjust="spacingAndGlyphs">STATE</text></g></g>
<ellipse cx="876.0" cy="335.6" rx="11" ry="8" fill="rgba(70,120,220,0.045)"/>
<ellipse cx="876.0" cy="345.6" rx="11" ry="8" fill="rgba(230,200,60,0.035)"/>
<g transform="translate(909.6 509.3)"><g transform="rotate(-31)"><rect x="-73.5" y="-20" width="130" height="58" rx="10" fill="rgba(255,255,255,0.037)"/></g><g transform="rotate(-34)" opacity="0.13"><path transform="translate(-48 12)" d="M-13,20 H13 V15 C10,13 6,10 4,5 L11,3 C14,1 14,-4 12,-6 L2,-16 C-2,-20 -8,-20 -12,-14 C-15,-8 -15,4 -11,15 Z" fill="#000"/><text x="0" y="7.3" text-anchor="middle" class="wm" textLength="54" lengthAdjust="spacingAndGlyphs">DEEP</text><text x="6" y="34" text-anchor="middle" class="wm" textLength="68" lengthAdjust="spacingAndGlyphs">STATE</text></g></g>
<ellipse cx="943.5" cy="459.9" rx="11" ry="8" fill="rgba(70,120,220,0.045)"/>
<ellipse cx="943.5" cy="469.9" rx="11" ry="8" fill="rgba(230,200,60,0.035)"/>
<g transform="translate(977.1 633.6)"><g transform="rotate(-31)"><rect x="-73.5" y="-20" width="130" height="58" rx="10" fill="rgba(255,255,255,0.037)"/></g><g transform="rotate(-34)" opacity="0.13"><path transform="translate(-48 12)" d="M-13,20 H13 V15 C10,13 6,10 4,5 L11,3 C14,1 14,-4 12,-6 L2,-16 C-2,-20 -8,-20 -12,-14 C-15,-8 -15,4 -11,15 Z" fill="#000"/><text x="0" y="7.3" text-anchor="middle" class="wm" textLength="54" lengthAdjust="spacingAndGlyphs">DEEP</text><text x="6" y="34" text-anchor="middle" class="wm" textLength="68" lengthAdjust="spacingAndGlyphs">STATE</text></g></g>
<ellipse cx="1011.0" cy="584.2" rx="11" ry="8" fill="rgba(70,120,220,0.045)"/>
<ellipse cx="1011.0" cy="594.2" rx="11" ry="8" fill="rgba(230,200,60,0.035)"/>
<g transform="translate(1044.6 757.9)"><g transform="rotate(-31)"><rect x="-73.5" y="-20" width="130" height="58" rx="10" fill="rgba(255,255,255,0.037)"/></g><g transform="rotate(-34)" opacity="0.13"><path transform="translate(-48 12)" d="M-13,20 H13 V15 C10,13 6,10 4,5 L11,3 C14,1 14,-4 12,-6 L2,-16 C-2,-20 -8,-20 -12,-14 C-15,-8 -15,4 -11,15 Z" fill="#000"/><text x="0" y="7.3" text-anchor="middle" class="wm" textLength="54" lengthAdjust="spacingAndGlyphs">DEEP</text><text x="6" y="34" text-anchor="middle" class="wm" textLength="68" lengthAdjust="spacingAndGlyphs">STATE</text></g></g>
<ellipse cx="1078.5" cy="708.5" rx="11" ry="8" fill="rgba(70,120,220,0.045)"/>
<ellipse cx="1078.5" cy="718.5" rx="11" ry="8" fill="rgba(230,200,60,0.035)"/>
<g transform="translate(833.1 -95.7)"><g transform="rotate(-31)"><rect x="-73.5" y="-20" width="130" height="58" rx="10" fill="rgba(255,255,255,0.037)"/></g><g transform="rotate(-34)" opacity="0.13"><path transform="translate(-48 12)" d="M-13,20 H13 V15 C10,13 6,10 4,5 L11,3 C14,1 14,-4 12,-6 L2,-16 C-2,-20 -8,-20 -12,-14 C-15,-8 -15,4 -11,15 Z" fill="#000"/><text x="0" y="7.3" text-anchor="middle" class="wm" textLength="54" lengthAdjust="spacingAndGlyphs">DEEP</text><text x="6" y="34" text-anchor="middle" class="wm" textLength="68" lengthAdjust="spacingAndGlyphs">STATE</text></g></g>
<ellipse cx="867.0" cy="-145.1" rx="11" ry="8" fill="rgba(70,120,220,0.045)"/>
<ellipse cx="867.0" cy="-135.1" rx="11" ry="8" fill="rgba(230,200,60,0.035)"/>
<g transform="translate(900.6 28.6)"><g transform="rotate(-31)"><rect x="-73.5" y="-20" width="130" height="58" rx="10" fill="rgba(255,255,255,0.037)"/></g><g transform="rotate(-34)" opacity="0.13"><path transform="translate(-48 12)" d="M-13,20 H13 V15 C10,13 6,10 4,5 L11,3 C14,1 14,-4 12,-6 L2,-16 C-2,-20 -8,-20 -12,-14 C-15,-8 -15,4 -11,15 Z" fill="#000"/><text x="0" y="7.3" text-anchor="middle" class="wm" textLength="54" lengthAdjust="spacingAndGlyphs">DEEP</text><text x="6" y="34" text-anchor="middle" class="wm" textLength="68" lengthAdjust="spacingAndGlyphs">STATE</text></g></g>
<ellipse cx="934.5" cy="-20.8" rx="11" ry="8" fill="rgba(70,120,220,0.045)"/>
<ellipse cx="934.5" cy="-10.8" rx="11" ry="8" fill="rgba(230,200,60,0.035)"/>
<g transform="translate(968.1 152.9)"><g transform="rotate(-31)"><rect x="-73.5" y="-20" width="130" height="58" rx="10" fill="rgba(255,255,255,0.037)"/></g><g transform="rotate(-34)" opacity="0.13"><path transform="translate(-48 12)" d="M-13,20 H13 V15 C10,13 6,10 4,5 L11,3 C14,1 14,-4 12,-6 L2,-16 C-2,-20 -8,-20 -12,-14 C-15,-8 -15,4 -11,15 Z" fill="#000"/><text x="0" y="7.3" text-anchor="middle" class="wm" textLength="54" lengthAdjust="spacingAndGlyphs">DEEP</text><text x="6" y="34" text-anchor="middle" class="wm" textLength="68" lengthAdjust="spacingAndGlyphs">STATE</text></g></g>
<ellipse cx="1002.0" cy="103.5" rx="11" ry="8" fill="rgba(70,120,220,0.045)"/>
<ellipse cx="1002.0" cy="113.5" rx="11" ry="8" fill="rgba(230,200,60,0.035)"/>
<g transform="translate(1035.6 277.2)"><g transform="rotate(-31)"><rect x="-73.5" y="-20" width="130" height="58" rx="10" fill="rgba(255,255,255,0.037)"/></g><g transform="rotate(-34)" opacity="0.13"><path transform="translate(-48 12)" d="M-13,20 H13 V15 C10,13 6,10 4,5 L11,3 C14,1 14,-4 12,-6 L2,-16 C-2,-20 -8,-20 -12,-14 C-15,-8 -15,4 -11,15 Z" fill="#000"/><text x="0" y="7.3" text-anchor="middle" class="wm" textLength="54" lengthAdjust="spacingAndGlyphs">DEEP</text><text x="6" y="34" text-anchor="middle" class="wm" textLength="68" lengthAdjust="spacingAndGlyphs">STATE</text></g></g>
<ellipse cx="1069.5" cy="227.8" rx="11" ry="8" fill="rgba(70,120,220,0.045)"/>
<ellipse cx="1069.5" cy="237.8" rx="11" ry="8" fill="rgba(230,200,60,0.035)"/>
<g transform="translate(1103.1 401.5)"><g transform="rotate(-31)"><rect x="-73.5" y="-20" width="130" height="58" rx="10" fill="rgba(255,255,255,0.037)"/></g><g transform="rotate(-34)" opacity="0.13"><path transform="translate(-48 12)" d="M-13,20 H13 V15 C10,13 6,10 4,5 L11,3 C14,1 14,-4 12,-6 L2,-16 C-2,-20 -8,-20 -12,-14 C-15,-8 -15,4 -11,15 Z" fill="#000"/><text x="0" y="7.3" text-anchor="middle" class="wm" textLength="54" lengthAdjust="spacingAndGlyphs">DEEP</text><text x="6" y="34" text-anchor="middle" class="wm" textLength="68" lengthAdjust="spacingAndGlyphs">STATE</text></g></g>
<ellipse cx="1137.0" cy="352.1" rx="11" ry="8" fill="rgba(70,120,220,0.045)"/>
<ellipse cx="1137.0" cy="362.1" rx="11" ry="8" fill="rgba(230,200,60,0.035)"/>
<g transform="translate(1170.6 525.8)"><g transform="rotate(-31)"><rect x="-73.5" y="-20" width="130" height="58" rx="10" fill="rgba(255,255,255,0.037)"/></g><g transform="rotate(-34)" opacity="0.13"><path transform="translate(-48 12)" d="M-13,20 H13 V15 C10,13 6,10 4,5 L11,3 C14,1 14,-4 12,-6 L2,-16 C-2,-20 -8,-20 -12,-14 C-15,-8 -15,4 -11,15 Z" fill="#000"/><text x="0" y="7.3" text-anchor="middle" class="wm" textLength="54" lengthAdjust="spacingAndGlyphs">DEEP</text><text x="6" y="34" text-anchor="middle" class="wm" textLength="68" lengthAdjust="spacingAndGlyphs">STATE</text></g></g>
<ellipse cx="1204.5" cy="476.4" rx="11" ry="8" fill="rgba(70,120,220,0.045)"/>
<ellipse cx="1204.5" cy="486.4" rx="11" ry="8" fill="rgba(230,200,60,0.035)"/>
<g transform="translate(1238.1 650.1)"><g transform="rotate(-31)"><rect x="-73.5" y="-20" width="130" height="58" rx="10" fill="rgba(255,255,255,0.037)"/></g><g transform="rotate(-34)" opacity="0.13"><path transform="translate(-48 12)" d="M-13,20 H13 V15 C10,13 6,10 4,5 L11,3 C14,1 14,-4 12,-6 L2,-16 C-2,-20 -8,-20 -12,-14 C-15,-8 -15,4 -11,15 Z" fill="#000"/><text x="0" y="7.3" text-anchor="middle" class="wm" textLength="54" lengthAdjust="spacingAndGlyphs">DEEP</text><text x="6" y="34" text-anchor="middle" class="wm" textLength="68" lengthAdjust="spacingAndGlyphs">STATE</text></g></g>
<ellipse cx="1272.0" cy="600.7" rx="11" ry="8" fill="rgba(70,120,220,0.045)"/>
<ellipse cx="1272.0" cy="610.7" rx="11" ry="8" fill="rgba(230,200,60,0.035)"/>
<g transform="translate(1305.6 774.4)"><g transform="rotate(-31)"><rect x="-73.5" y="-20" width="130" height="58" rx="10" fill="rgba(255,255,255,0.037)"/></g><g transform="rotate(-34)" opacity="0.13"><path transform="translate(-48 12)" d="M-13,20 H13 V15 C10,13 6,10 4,5 L11,3 C14,1 14,-4 12,-6 L2,-16 C-2,-20 -8,-20 -12,-14 C-15,-8 -15,4 -11,15 Z" fill="#000"/><text x="0" y="7.3" text-anchor="middle" class="wm" textLength="54" lengthAdjust="spacingAndGlyphs">DEEP</text><text x="6" y="34" text-anchor="middle" class="wm" textLength="68" lengthAdjust="spacingAndGlyphs">STATE</text></g></g>
<ellipse cx="1339.5" cy="725.0" rx="11" ry="8" fill="rgba(70,120,220,0.045)"/>
<ellipse cx="1339.5" cy="735.0" rx="11" ry="8" fill="rgba(230,200,60,0.035)"/>
<g transform="translate(1094.1 -79.2)"><g transform="rotate(-31)"><rect x="-73.5" y="-20" width="130" height="58" rx="10" fill="rgba(255,255,255,0.037)"/></g><g transform="rotate(-34)" opacity="0.13"><path transform="translate(-48 12)" d="M-13,20 H13 V15 C10,13 6,10 4,5 L11,3 C14,1 14,-4 12,-6 L2,-16 C-2,-20 -8,-20 -12,-14 C-15,-8 -15,4 -11,15 Z" fill="#000"/><text x="0" y="7.3" text-anchor="middle" class="wm" textLength="54" lengthAdjust="spacingAndGlyphs">DEEP</text><text x="6" y="34" text-anchor="middle" class="wm" textLength="68" lengthAdjust="spacingAndGlyphs">STATE</text></g></g>
<ellipse cx="1128.0" cy="-128.6" rx="11" ry="8" fill="rgba(70,120,220,0.045)"/>
<ellipse cx="1128.0" cy="-118.6" rx="11" ry="8" fill="rgba(230,200,60,0.035)"/>
<g transform="translate(1161.6 45.1)"><g transform="rotate(-31)"><rect x="-73.5" y="-20" width="130" height="58" rx="10" fill="rgba(255,255,255,0.037)"/></g><g transform="rotate(-34)" opacity="0.13"><path transform="translate(-48 12)" d="M-13,20 H13 V15 C10,13 6,10 4,5 L11,3 C14,1 14,-4 12,-6 L2,-16 C-2,-20 -8,-20 -12,-14 C-15,-8 -15,4 -11,15 Z" fill="#000"/><text x="0" y="7.3" text-anchor="middle" class="wm" textLength="54" lengthAdjust="spacingAndGlyphs">DEEP</text><text x="6" y="34" text-anchor="middle" class="wm" textLength="68" lengthAdjust="spacingAndGlyphs">STATE</text></g></g>
<ellipse cx="1195.5" cy="-4.3" rx="11" ry="8" fill="rgba(70,120,220,0.045)"/>
<ellipse cx="1195.5" cy="5.7" rx="11" ry="8" fill="rgba(230,200,60,0.035)"/>
<g transform="translate(1229.1 169.4)"><g transform="rotate(-31)"><rect x="-73.5" y="-20" width="130" height="58" rx="10" fill="rgba(255,255,255,0.037)"/></g><g transform="rotate(-34)" opacity="0.13"><path transform="translate(-48 12)" d="M-13,20 H13 V15 C10,13 6,10 4,5 L11,3 C14,1 14,-4 12,-6 L2,-16 C-2,-20 -8,-20 -12,-14 C-15,-8 -15,4 -11,15 Z" fill="#000"/><text x="0" y="7.3" text-anchor="middle" class="wm" textLength="54" lengthAdjust="spacingAndGlyphs">DEEP</text><text x="6" y="34" text-anchor="middle" class="wm" textLength="68" lengthAdjust="spacingAndGlyphs">STATE</text></g></g>
<ellipse cx="1263.0" cy="120.0" rx="11" ry="8" fill="rgba(70,120,220,0.045)"/>
<ellipse cx="1263.0" cy="130.0" rx="11" ry="8" fill="rgba(230,200,60,0.035)"/>
<g transform="translate(1296.6 293.7)"><g transform="rotate(-31)"><rect x="-73.5" y="-20" width="130" height="58" rx="10" fill="rgba(255,255,255,0.037)"/></g><g transform="rotate(-34)" opacity="0.13"><path transform="translate(-48 12)" d="M-13,20 H13 V15 C10,13 6,10 4,5 L11,3 C14,1 14,-4 12,-6 L2,-16 C-2,-20 -8,-20 -12,-14 C-15,-8 -15,4 -11,15 Z" fill="#000"/><text x="0" y="7.3" text-anchor="middle" class="wm" textLength="54" lengthAdjust="spacingAndGlyphs">DEEP</text><text x="6" y="34" text-anchor="middle" class="wm" textLength="68" lengthAdjust="spacingAndGlyphs">STATE</text></g></g>
<ellipse cx="1330.5" cy="244.3" rx="11" ry="8" fill="rgba(70,120,220,0.045)"/>
<ellipse cx="1330.5" cy="254.3" rx="11" ry="8" fill="rgba(230,200,60,0.035)"/>
<g transform="translate(1364.1 418.0)"><g transform="rotate(-31)"><rect x="-73.5" y="-20" width="130" height="58" rx="10" fill="rgba(255,255,255,0.037)"/></g><g transform="rotate(-34)" opacity="0.13"><path transform="translate(-48 12)" d="M-13,20 H13 V15 C10,13 6,10 4,5 L11,3 C14,1 14,-4 12,-6 L2,-16 C-2,-20 -8,-20 -12,-14 C-15,-8 -15,4 -11,15 Z" fill="#000"/><text x="0" y="7.3" text-anchor="middle" class="wm" textLength="54" lengthAdjust="spacingAndGlyphs">DEEP</text><text x="6" y="34" text-anchor="middle" class="wm" textLength="68" lengthAdjust="spacingAndGlyphs">STATE</text></g></g>
<ellipse cx="1398.0" cy="368.6" rx="11" ry="8" fill="rgba(70,120,220,0.045)"/>
<ellipse cx="1398.0" cy="378.6" rx="11" ry="8" fill="rgba(230,200,60,0.035)"/>
<g transform="translate(1355.1 -62.7)"><g transform="rotate(-31)"><rect x="-73.5" y="-20" width="130" height="58" rx="10" fill="rgba(255,255,255,0.037)"/></g><g transform="rotate(-34)" opacity="0.13"><path transform="translate(-48 12)" d="M-13,20 H13 V15 C10,13 6,10 4,5 L11,3 C14,1 14,-4 12,-6 L2,-16 C-2,-20 -8,-20 -12,-14 C-15,-8 -15,4 -11,15 Z" fill="#000"/><text x="0" y="7.3" text-anchor="middle" class="wm" textLength="54" lengthAdjust="spacingAndGlyphs">DEEP</text><text x="6" y="34" text-anchor="middle" class="wm" textLength="68" lengthAdjust="spacingAndGlyphs">STATE</text></g></g>
<ellipse cx="1389.0" cy="-112.1" rx="11" ry="8" fill="rgba(70,120,220,0.045)"/>
<ellipse cx="1389.0" cy="-102.1" rx="11" ry="8" fill="rgba(230,200,60,0.035)"/>
<clipPath id="tc"><rect x="0" y="0" width="1280" height="79.3"/></clipPath><g clip-path="url(#tc)">
<text transform="translate(300.51 0) scale(1.0541 1)" x="0" y="68.6" class="t1">Д</text>
<text transform="translate(349.38 0) scale(0.9754 1)" x="0" y="68.6" class="t1">И</text>
<text transform="translate(396.27 0) scale(0.9690 1)" x="0" y="68.6" class="t1">Н</text>
<text transform="translate(442.51 0) scale(1.0011 1)" x="0" y="68.6" class="t1">А</text>
<text transform="translate(486.93 0) scale(1.0594 1)" x="0" y="68.6" class="t1">М</text>
<text transform="translate(544.59 0) scale(0.9606 1)" x="0" y="68.6" class="t1">І</text>
<text transform="translate(564.60 0) scale(1.0681 1)" x="0" y="68.6" class="t1">К</text>
<text transform="translate(608.52 0) scale(0.9521 1)" x="0" y="68.6" class="t1">А</text>
<text transform="translate(667.99 0) scale(0.9528 1)" x="0" y="68.6" class="t1">О</text>
<text transform="translate(714.84 0) scale(1.0908 1)" x="0" y="68.6" class="t1">К</text>
<text transform="translate(763.05 0) scale(0.9023 1)" x="0" y="68.6" class="t1">У</text>
<text transform="translate(802.50 0) scale(0.9205 1)" x="0" y="68.6" class="t1">П</text>
<text transform="translate(846.10 0) scale(1.0057 1)" x="0" y="68.6" class="t1">А</text>
<text transform="translate(891.27 0) scale(1.0054 1)" x="0" y="68.6" class="t1">Ц</text>
<text transform="translate(940.21 0) scale(0.9162 1)" x="0" y="68.6" class="t1">І</text>
<text transform="translate(960.21 0) scale(0.9162 1)" x="0" y="68.6" class="t1">І</text>
</g>
<rect x="955.1" y="12.6" width="10.3" height="8.1" fill="#fff"/><rect x="970.7" y="12.6" width="10.3" height="8.1" fill="#fff"/>
<text transform="translate(435.37 0) scale(0.9390 1)" x="0" y="116.7" class="t2">В</text>
<text transform="translate(462.35 0) scale(0.9582 1)" x="0" y="116.7" class="t2">Р</text>
<text transform="translate(479.39 0) scale(0.9970 1)" x="0" y="116.7" class="t2">О</text>
<text transform="translate(500.40 0) scale(0.9708 1)" x="0" y="116.7" class="t2">З</text>
<text transform="translate(518.15 0) scale(0.9582 1)" x="0" y="116.7" class="t2">Р</text>
<text transform="translate(536.99 0) scale(1.0022 1)" x="0" y="116.7" class="t2">І</text>
<text transform="translate(545.60 0) scale(0.9708 1)" x="0" y="116.7" class="t2">З</text>
<text transform="translate(563.16 0) scale(1.0227 1)" x="0" y="116.7" class="t2">І</text>
<text transform="translate(577.05 0) scale(1.1117 1)" x="0" y="116.7" class="t2">М</text>
<text transform="translate(603.36 0) scale(1.0227 1)" x="0" y="116.7" class="t2">І</text>
<text transform="translate(613.24 0) scale(0.9221 1)" x="0" y="116.7" class="t2">С</text>
<text transform="translate(633.44 0) scale(0.9262 1)" x="0" y="116.7" class="t2">Я</text>
<text transform="translate(652.15 0) scale(1.0311 1)" x="0" y="116.7" class="t2">Ц</text>
<text transform="translate(674.86 0) scale(1.0227 1)" x="0" y="116.7" class="t2">І</text>
<text transform="translate(683.40 0) scale(0.9160 1)" x="0" y="116.7" class="t2">В</text>
<text transform="translate(701.14 0) scale(1.3984 1)" x="0" y="116.7" class="t2">,</text>
<text transform="translate(723.65 0) scale(0.9316 1)" x="0" y="116.7" class="t2">У</text>
<text transform="translate(749.68 0) scale(1.0119 1)" x="0" y="116.7" class="t2">К</text>
<text transform="translate(769.77 0) scale(1.0162 1)" x="0" y="116.7" class="t2">М</text>
<text transform="translate(804.17 0) scale(1.0183 1)" x="0" y="116.7" class="t2">К</text>
<text transform="translate(823.77 0) scale(0.8645 1)" x="0" y="116.7" class="t2">В</text>
</svg>
</body></html>
